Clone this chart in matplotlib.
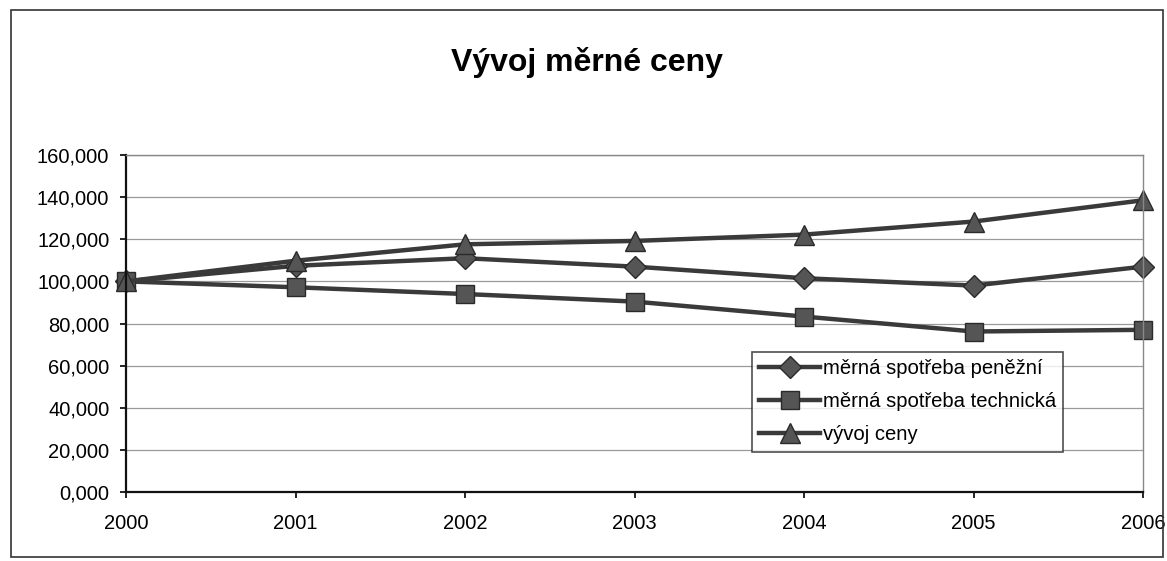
import numpy as np
import matplotlib
matplotlib.use('Agg')
import matplotlib.pyplot as plt
from matplotlib.patches import Rectangle
from matplotlib.ticker import FuncFormatter

plt.rcParams['font.family'] = ['Liberation Sans', 'DejaVu Sans']

years = [2000, 2001, 2002, 2003, 2004, 2005, 2006]
spotreba_penezni = [100.0, 107.4, 111.0, 107.0, 101.5, 98.0, 107.0]
spotreba_technicka = [100.0, 97.2, 94.0, 90.4, 83.3, 76.2, 77.0]
vyvoj_ceny = [100.0, 109.8, 117.6, 119.2, 122.2, 128.4, 138.5]
y_ticks = [0, 20, 40, 60, 80, 100, 120, 140, 160]

W, H = 1167, 561
fig = plt.figure(figsize=(W / 100, H / 100), dpi=100)
ax = fig.add_axes([126 / W, 1 - 492 / H, (1143 - 126) / W, (492 - 155) / H])

line_col = '#3a3a3a'
mark_col = '#555555'
common = dict(color=line_col, lw=3.2, markerfacecolor=mark_col,
              markeredgecolor='#2a2a2a', markeredgewidth=1.0, clip_on=False)
ax.plot(years, spotreba_penezni, marker='D', ms=11, label='měrná spotřeba peněžní', **common)
ax.plot(years, spotreba_technicka, marker='s', ms=13, label='měrná spotřeba technická', **common)
ax.plot(years, vyvoj_ceny, marker='^', ms=14, label='vývoj ceny', **common)

ax.set_xlim(years[0], years[-1])
ax.set_ylim(0, 160)
ax.set_xticks(years)
ax.set_yticks(y_ticks)
ax.yaxis.set_major_formatter(FuncFormatter(lambda v, p: f'{v:.3f}'.replace('.', ',')))
ax.grid(axis='y', color='#9a9a9a', lw=0.9)
ax.set_axisbelow(True)

for s in ['left', 'bottom']:
    ax.spines[s].set_color('#111111')
    ax.spines[s].set_linewidth(1.6)
for s in ['top', 'right']:
    ax.spines[s].set_color('#888888')
    ax.spines[s].set_linewidth(1.0)

ax.tick_params(axis='x', direction='out', length=4, width=1.2, pad=12, labelsize=14.5)
ax.tick_params(axis='y', direction='out', length=4, width=1.2, pad=8, labelsize=14.5)

leg = ax.legend(loc='upper left', bbox_to_anchor=(752 / W, 1 - 352 / H),
                bbox_transform=fig.transFigure, fontsize=14.6, frameon=True,
                fancybox=False, handlelength=3.0, handletextpad=0.15,
                borderpad=0.35, labelspacing=0.7, borderaxespad=0)
leg.get_frame().set_edgecolor('#222222')
leg.get_frame().set_linewidth(1.2)

fig.text(587 / W, 1 - 62 / H, 'Vývoj měrné ceny', ha='center', va='center',
         fontsize=23, fontweight='bold')

fig.patches.append(Rectangle((11 / W, 1 - 557 / H), (1163 - 11) / W, (557 - 10) / H,
                             transform=fig.transFigure, fill=False,
                             edgecolor='#333333', lw=1.2))

fig.savefig('out.png', dpi=100)
